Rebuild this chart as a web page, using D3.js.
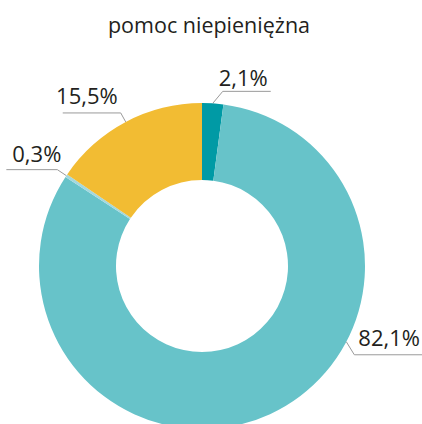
<!DOCTYPE html>
<html>
<head>
<meta charset="utf-8">
<script src="https://cdn.jsdelivr.net/npm/d3@7/dist/d3.min.js"></script>
<style>
  html, body { margin: 0; padding: 0; background: #fff; }
  svg { display: block; }
  text { font-family: "Open Sans", sans-serif; fill: #231f20; }
</style>
</head>
<body>
<svg id="chart" width="422" height="424"></svg>
<script>
const title = "pomoc niepieniężna";
const categories = ["a", "b", "c", "d"];
const values = [2.1, 82.1, 0.3, 15.5];
const labels = ["2,1%", "82,1%", "0,3%", "15,5%"];
const colors = ["#009aa5", "#67c3c9", "#a3d8de", "#f2bc33"];

const W = 422, H = 424;
const cx = 202, cy = 266, rOuter = 163, rInner = 86;

// label layout: optional anchor angle override (deg), elbow offset, horizontal run, text placement
const labelLayout = [
  { angle: null,  dx: 10, dy: -12, run: 48,  anchor: "start", tx: -4, ty: -5 },
  { angle: 117.7, dx: 8,  dy: 13,  run: 80,  anchor: "start", tx: 4,  ty: -9 },
  { angle: null,  dx: -9, dy: -6,  run: -51, anchor: "end",   tx: 4,  ty: -8 },
  { angle: null,  dx: -5, dy: -9,  run: -58, anchor: "end",   tx: -3, ty: -9 }
];

const svg = d3.select("#chart");

svg.append("text")
  .attr("x", 209).attr("y", 33)
  .attr("text-anchor", "middle")
  .attr("font-size", 21.5)
  .text(title);

const pie = d3.pie().sort(null).value(d => d)(values);
const arc = d3.arc().innerRadius(rInner).outerRadius(rOuter);

const g = svg.append("g").attr("transform", `translate(${cx},${cy})`);
g.selectAll("path.slice")
  .data(pie)
  .join("path")
  .attr("class", "slice")
  .attr("d", arc)
  .attr("fill", (d, i) => colors[i]);

pie.forEach((d, i) => {
  const L = labelLayout[i];
  const a = L.angle != null ? L.angle * Math.PI / 180 : (d.startAngle + d.endAngle) / 2;
  const sx = cx + rOuter * Math.sin(a);
  const sy = cy - rOuter * Math.cos(a);
  const ex = sx + L.dx, ey = sy + L.dy;
  const hx = ex + L.run;
  svg.append("polyline")
    .attr("points", `${sx},${sy} ${ex},${ey} ${hx},${ey}`)
    .attr("fill", "none")
    .attr("stroke", "#9a9a9a")
    .attr("stroke-width", 1);
  svg.append("text")
    .attr("x", ex + L.tx)
    .attr("y", ey + L.ty)
    .attr("text-anchor", L.anchor)
    .attr("font-size", 22)
    .text(labels[i]);
});
</script>
</body>
</html>
